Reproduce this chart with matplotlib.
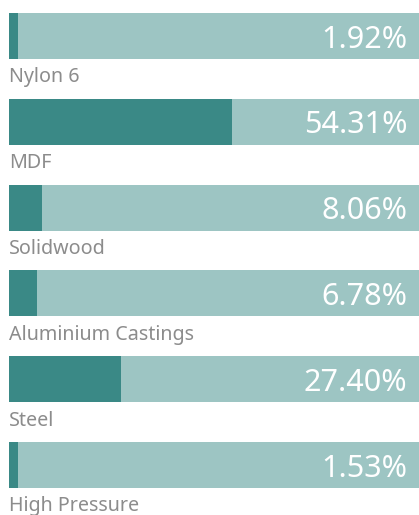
import matplotlib as mpl
import matplotlib.pyplot as plt

materials = ['Nylon 6', 'MDF', 'Solidwood', 'Aluminium Castings', 'Steel', 'High Pressure']
shares = [1.92, 54.31, 8.06, 6.78, 27.40, 1.53]

light = '#9dc5c3'
dark = '#3a8986'
label_col = '#8c8c8c'

fig = plt.figure(figsize=(4.19, 5.15), dpi=100)
ax = fig.add_axes([9/419, 0, 410/419, 1])
ax.set_xlim(0, 100)
ax.set_ylim((515 - 36) / 85.8, -36 / 85.8)
ax.axis('off')

h = 46 / 85.8
for i, (name, v) in enumerate(zip(materials, shares)):
    ax.barh(i, 100, height=h, color=light, left=0)
    ax.barh(i, max(v, 2.2), height=h, color=dark, left=0)
    ax.annotate('%.2f%%' % v, xy=(100, i), xytext=(-8.5, 0), textcoords='offset points',
                ha='right', va='center_baseline', color='white', fontsize=22,
                family='Noto Sans', fontweight='medium')
    ax.text(0, i + 0.54, name, ha='left', va='baseline', color=label_col,
            fontsize=14.2, family='Noto Sans', fontweight='light')

plt.savefig('out.png', dpi=100)
